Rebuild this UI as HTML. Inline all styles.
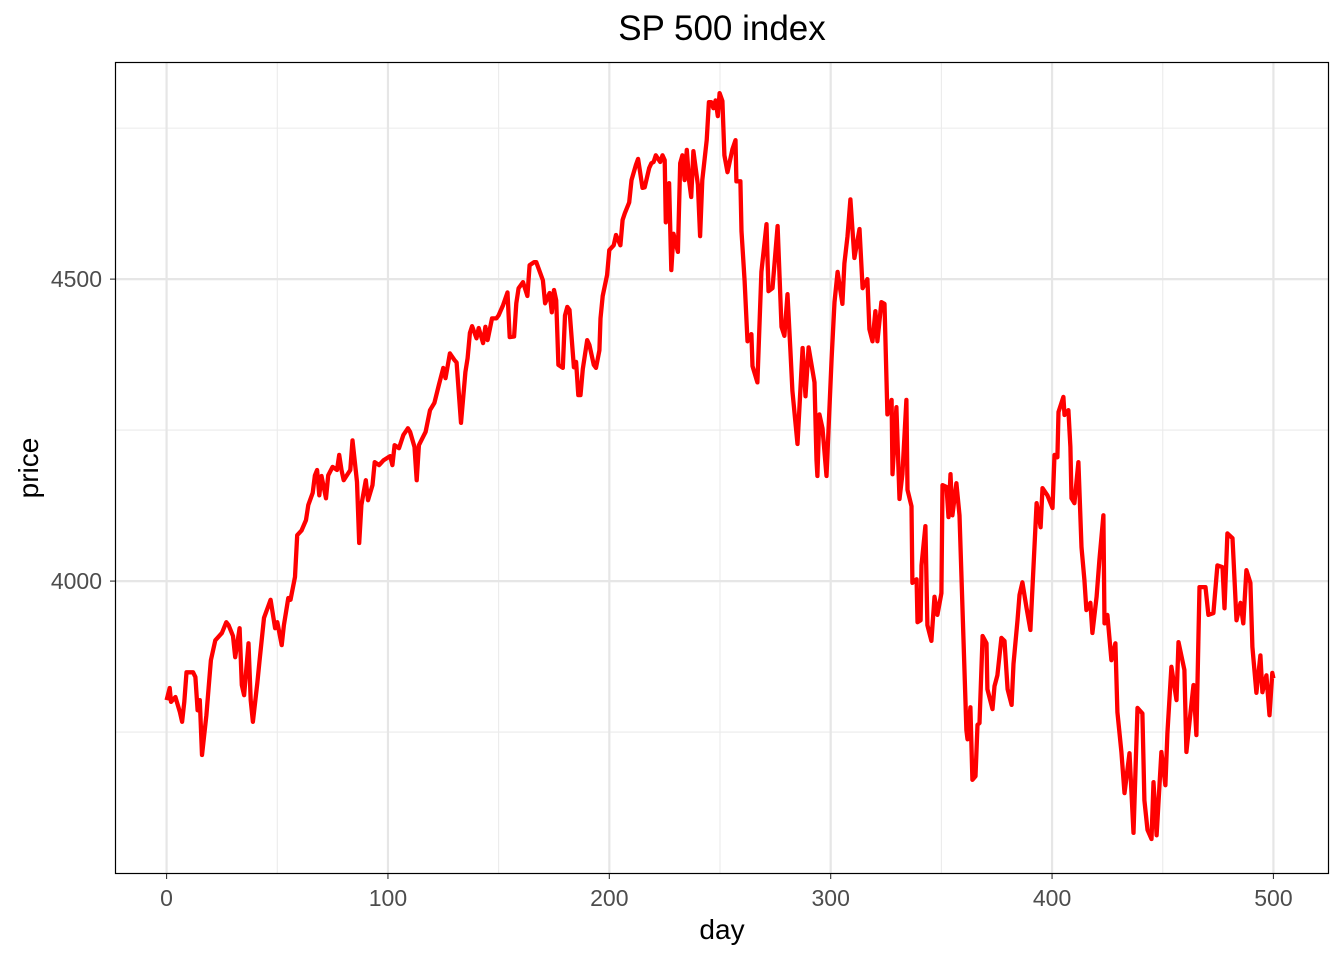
<!DOCTYPE html>
<html><head><meta charset="utf-8"><style>
body{margin:0;background:#fff;}
svg text{font-family:"Liberation Sans",Arial,sans-serif;}
</style></head><body>
<svg id="chart" width="1344" height="960" xmlns="http://www.w3.org/2000/svg">
<rect width="1344" height="960" fill="#fff"/>
<g id="grid"></g>
<path id="line" fill="none" stroke="#ff0000" stroke-width="4.3" stroke-linejoin="round"/>
<rect x="115.5" y="62.5" width="1213" height="811" fill="none" stroke="#000" stroke-width="1.2"/>
<g id="ticks"></g>
<text x="722" y="40" font-size="35" text-anchor="middle" fill="#000">SP 500 index</text>
<text x="722" y="939" font-size="28" text-anchor="middle" fill="#000">day</text>
<text x="38" y="468" font-size="28" text-anchor="middle" fill="#000" transform="rotate(-90 38 468)">price</text>
</svg>
<script>
const days=[0,1.4,2,4,6,7,8,9,12,13,14,15,16,18,19,20,22,25,27,28,30,31,33,34,35,37,38,39,41,42,44,46,47,49,50,52,53,55,56,58,59,61,63,64,66,67,68,69,70,72,73,75,77,78,79,80,83,84,86,87,88,90,91,93,94,96,98,101,102,103,105,107,109,110,112,113,114,117,119,121,123,125,126,128,130,131,133,135,136,137,138,140,141,143,144,145,147,149,150,152,154,155,157,158,159,161,163,164,166,167,168,170,171,173,174,175,176,177,179,180,181,182,184,185,186,187,188,190,191,193,194,195.5,196,197,199,200,202,203,205,206,207,209,210,212,213,215,216,218,219,220,221,223,224,225,225.5,227,228,229,231,232,233,234,235,236,237,238,240,241,242,244,245,246,247,248,249,
249.8,251.1,252,253.4,255.6,257,257.4,259.2,259.7,261.1,262.4,264.2,264.7,266.9,268.7,271,271.9,273.7,276,277.8,279.1,280.5,281.8,282.7,285,287.3,288.6,290,292.7,293.6,294,294.9,296.3,298.1,300.4,301.7,303.1,305.3,306.2,307.6,308.9,310.7,313,314.4,316.6,317.5,318.9,320.2,321.1,322.9,324.3,325.6,327.5,327.9,329.7,331.1,332.4,334.2,334.7,336.5,336.9,338.8,339.2,340.6,341,342.8,343.7,345.5,346.9,348.2,350,350.5,352.3,353.2,354.1,355,356.8,358.2,361.3,361.8,363.1,364,365.4,366.3,367.2,368.6,370.4,370.8,373.1,374,375.3,377.1,378.5,379.9,381.7,382.6,384.4,385.3,
386.6,388.4,390.2,393,394.8,395.7,397.9,400.2,401.1,402.4,402.9,405.1,405.6,407.4,408.3,408.8,410.1,411.9,413.3,414.6,415.5,417.3,418.2,420.1,421.4,423.2,423.7,425,426.8,428.6,429.5,431.3,432.7,435,436.8,438.6,440.8,441.7,443.1,444.9,445.8,447.2,449.4,451.2,452.1,453.9,456.2,457.1,459.8,460.7,462.5,463.9,465.2,466.6,469.3,470.6,472.9,474.7,477,477.9,479.2,481.5,483.3,485.1,486.4,487.8,489.6,490.5,492.3,494.1,495,496.8,498.2,499.5,500];
const prices=[3803,3823,3800,3808,3783,3767,3800,3849,3849,3841,3786,3803,3712,3778,3823,3869,3902,3914,3932,3927,3909,3874,3922,3828,3811,3897,3803,3767,3831,3869,3939,3959,3969,3922,3932,3894,3927,3972,3969,4007,4076,4084,4101,4126,4146,4175,4184,4142,4174,4137,4175,4189,4184,4209,4184,4167,4184,4233,4164,4063,4126,4167,4134,4159,4197,4192,4200,4207,4192,4225,4220,4242,4253,4247,4222,4167,4225,4247,4283,4295,4325,4353,4336,4377,4366,4362,4262,4346,4369,4411,4422,4402,4419,4394,4421,4399,4435,4435,4440,4457,4478,4404,4405,4460,4485,4495,4472,4523,4528,4528,4518,4498,4460,4477,4445,4482,4465,4358,4353,4440,4454,4449,4354,4363,4308,4308,4351,4399,4391,4358,4353,4382,4435,4472,4507,4548,4556,4573,4556,4598,4609,4627,4664,4689,4699,4651,4652,4684,4692,4694,4705,4694,4705,4697,4594,4659,4515,4575,4545,4692,4705,4664,4714,4664,4636,4712,4656,4571,4664,4730,4793,4793,4783,4796,4770,
4808,4795,4705,4677,4715,4730,4662,4662,4579,4497,4397,4409,4356,4329,4512,4591,4480,4485,4588,4421,4406,4475,4382,4315,4227,4386,4306,4387,4329,4200,4174,4276,4253,4174,4368,4462,4512,4459,4526,4571,4632,4535,4583,4485,4500,4417,4397,4447,4397,4462,4459,4276,4300,4177,4288,4136,4177,4300,4151,4124,3997,4003,3932,3935,4026,4091,3927,3901,3974,3944,3980,4159,4156,4106,4177,4109,4162,4109,3753,3738,3791,3671,3677,3762,3765,3909,3897,3821,3788,3826,3844,3906,3901,3821,3795,3863,3935,3977,
3998,3957,3919,4129,4089,4154,4142,4121,4209,4205,4280,4305,4275,4283,4222,4137,4129,4197,4056,4002,3952,3964,3914,3974,4035,4109,3930,3944,3869,3897,3783,3717,3649,3715,3583,3790,3781,3637,3588,3573,3667,3579,3717,3662,3748,3858,3803,3899,3853,3717,3781,3828,3745,3990,3990,3944,3947,4026,4023,3955,4079,4071,3935,3964,3930,4018,3997,3891,3815,3877,3816,3844,3778,3848,3839];
const xTicks=[0,100,200,300,400,500];
const xMinor=[50,150,250,350,450];
const yTicks=[4000,4500];
const yMinor=[3750,4250,4750];

const X0=115,X1=1329,Y0=62,Y1=874;
const xDom=[-23.3,525.1], yDom=[3515,4859.5];
function sx(d){return X0+(d-xDom[0])/(xDom[1]-xDom[0])*(X1-X0);}
function sy(v){return Y1-(v-yDom[0])/(yDom[1]-yDom[0])*(Y1-Y0);}
const NS="http://www.w3.org/2000/svg";
const grid=document.getElementById('grid'), ticks=document.getElementById('ticks');
function ln(parent,x1,y1,x2,y2,c,w){const l=document.createElementNS(NS,'line');
l.setAttribute('x1',x1);l.setAttribute('y1',y1);l.setAttribute('x2',x2);l.setAttribute('y2',y2);
l.setAttribute('stroke',c);l.setAttribute('stroke-width',w);parent.appendChild(l);return l;}
xMinor.forEach(d=>{const l=ln(grid,sx(d),Y0,sx(d),Y1,'#ebebeb',1.1);

});
yMinor.forEach(v=>{const l=ln(grid,X0,sy(v),X1,sy(v),'#ebebeb',1.1);

});
xTicks.forEach(d=>{const l=ln(grid,sx(d),Y0,sx(d),Y1,'#e6e6e6',2.2);


const t=ln(ticks,sx(d),Y1,sx(d),Y1+5,'#333',1.1);


const tx=document.createElementNS(NS,'text');tx.setAttribute('x',sx(d));tx.setAttribute('y',906);
tx.setAttribute('font-size','23');tx.setAttribute('fill','#4d4d4d');tx.setAttribute('text-anchor','middle');tx.textContent=d;


ticks.appendChild(tx);});
yTicks.forEach(v=>{const l=ln(grid,X0,sy(v),X1,sy(v),'#e6e6e6',2.2);


const t=ln(ticks,X0-5,sy(v),X0,sy(v),'#333',1.1);


const tx=document.createElementNS(NS,'text');tx.setAttribute('x',X0-13);tx.setAttribute('y',sy(v)+8);
tx.setAttribute('font-size','23');tx.setAttribute('fill','#4d4d4d');tx.setAttribute('text-anchor','end');tx.textContent=v;


ticks.appendChild(tx);});
let d='';
days.forEach((dy,i)=>{d+=(i?'L':'M')+sx(dy).toFixed(1)+','+sy(prices[i]).toFixed(1);});
document.getElementById('line').setAttribute('d',d);
</script>
</body></html>
